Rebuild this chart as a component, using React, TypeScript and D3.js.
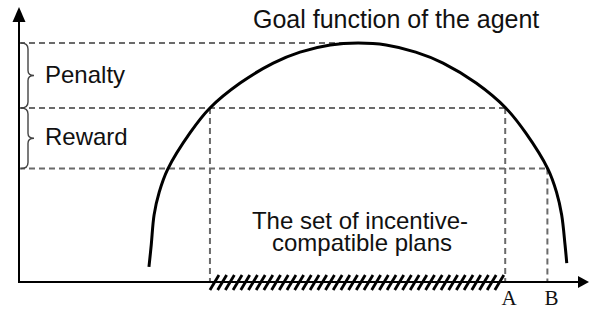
import React from 'react'
import { scaleLinear, line, curveCatmullRom, range } from 'd3'

// goal function of the agent (plan, value)
const curveX = [22.8, 23.2, 23.7, 24.6, 26.1, 30.0, 33.5, 38.8, 44.6, 49.3, 54.6, 59.5, 64.4, 69.6, 74.4, 80.2, 85.4, 88.9, 92.8, 94.3, 95.2, 95.8, 96.1]
const curveY = [5.5, 13.5, 24.5, 32.8, 41.2, 54.4, 63.5, 72.6, 79.9, 83.9, 86.5, 87.2, 86.5, 83.9, 79.9, 72.6, 63.5, 54.4, 41.2, 32.8, 24.5, 13.5, 6.9]

// value levels: max, level at A, level at B
const levels = [87.2, 63.5, 41.4]
const peakPlan = 59.5
// plans: left end of the set, A, B
const plans = [33.5, 85.3, 92.7]
const planLabels = ['A', 'B']
const bandLabels = ['Penalty', 'Reward']
const title = 'Goal function of the agent'
const setLabel = ['The set of incentive-', 'compatible plans']

const W = 589
const H = 309
const X0 = 19
const Y0 = 282

const SANS = "Arial, 'Liberation Sans', sans-serif"
const SERIF = "'Times New Roman', 'Liberation Serif', serif"

export default function App(): JSX.Element {
  const x = scaleLinear().domain([0, 100]).range([X0, W])
  const y = scaleLinear().domain([0, 100]).range([Y0, 8])

  const pts: [number, number][] = curveX.map((v, i) => [v, curveY[i]])
  const curveFn = line<[number, number]>()
    .x((d) => x(d[0]))
    .y((d) => y(d[1]))
    .curve(curveCatmullRom.alpha(0.5))

  const dash = { stroke: '#6a6a6a', strokeWidth: 2, strokeDasharray: '6,4', fill: 'none' }

  // horizontal dashed lines end where they meet the curve
  const hEnds = [peakPlan, plans[1], plans[2]]
  // vertical dashed lines start at the level they come from
  const vTops = [levels[1], levels[1], levels[2]]

  function brace(y0: number, y1: number): string {
    const m = (y0 + y1) / 2
    return `M21,${y0} Q28,${y0} 28,${y0 + 6} L28,${m - 5} Q28,${m} 34,${m} Q28,${m} 28,${m + 5} L28,${y1 - 6} Q28,${y1} 21,${y1}`
  }

  // hatch marks over the incentive-compatible set
  const hx0 = x(plans[0]) + 4
  const hx1 = x(plans[1])
  const hatch = range(hx0, hx1 - 2, 7.7)

  return (
    <svg
      width={W}
      height={H}
      style={{ position: 'absolute', left: 0, top: 0, background: '#fff' }}
      xmlns="http://www.w3.org/2000/svg"
    >
      {/* dashed guide lines */}
      <g className="guides">
        {levels.map((lv, i) => (
          <line key={'h' + i} x1={x(0)} x2={x(hEnds[i])} y1={y(lv)} y2={y(lv)} style={dash} />
        ))}
        {plans.map((p, i) => (
          <line key={'v' + i} x1={x(p)} x2={x(p)} y1={y(vTops[i])} y2={y(0)} style={dash} />
        ))}
      </g>

      {/* axes */}
      <g className="axes" stroke="#000" strokeWidth={2}>
        <line x1={x(0)} x2={x(0)} y1={y(0)} y2={22} />
        <line x1={x(0) - 1} x2={W - 10} y1={y(0)} y2={y(0)} />
      </g>
      <path d={`M${X0},7 L${X0 - 6.5},22 L${X0 + 6.5},22 Z`} fill="#000" />
      <path d={`M${W},${Y0} L${W - 11},${Y0 - 6} L${W - 11},${Y0 + 6} Z`} fill="#000" />

      {/* hatching */}
      <g className="hatch" stroke="#000" strokeWidth={2.8}>
        {hatch.map((hx, i) => (
          <line key={i} x1={hx - 4} x2={hx + 5} y1={Y0 + 8} y2={Y0 - 7} />
        ))}
      </g>

      {/* goal function */}
      <path d={curveFn(pts) || ''} fill="none" stroke="#000" strokeWidth={3} />

      {/* braces */}
      <g fill="none" stroke="#444" strokeWidth={1.4}>
        <path d={brace(y(levels[0]), y(levels[1]))} />
        <path d={brace(y(levels[1]), y(levels[2]))} />
      </g>

      <g fontFamily={SANS} fill="#111" fontSize={24}>
        <text x={45} y={83}>{bandLabels[0]}</text>
        <text x={45} y={145}>{bandLabels[1]}</text>
        <text x={253} y={28} fontSize={25}>{title}</text>
        <text x={360} y={229} textAnchor="middle">{setLabel[0]}</text>
        <text x={362} y={251} textAnchor="middle">{setLabel[1]}</text>
      </g>

      <g fontFamily={SERIF} fill="#111" fontSize={21} textAnchor="middle">
        {planLabels.map((l, i) => (
          <text key={l} x={x(plans[i + 1]) + 4} y={305}>{l}</text>
        ))}
      </g>
    </svg>
  )
}
